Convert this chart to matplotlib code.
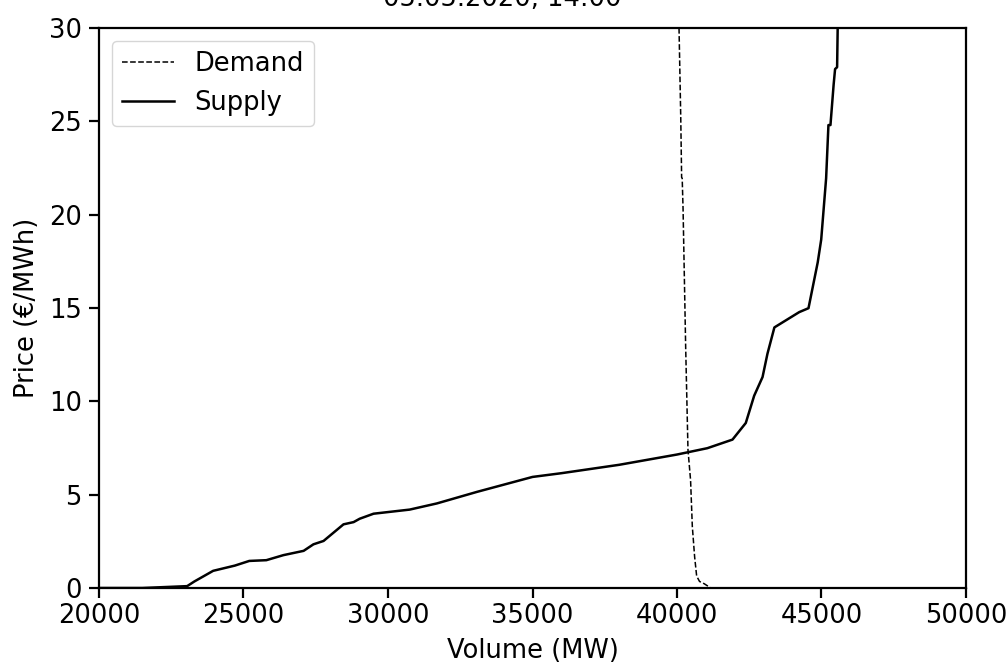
import matplotlib
matplotlib.use("Agg")
import matplotlib.pyplot as plt

# Bid curves
supply_volume = [20000, 21500, 23050, 23300, 23950, 24700, 25200, 25790, 26380, 27080,
                 27420, 27770, 28460, 28810, 29020, 29500, 30750, 31690, 33080, 35000,
                 36000, 38000, 40000, 41050, 41920, 42380, 42670, 42960, 43130, 43370,
                 44230, 44550, 44870, 44990, 45160, 45240, 45310, 45420, 45470, 45540, 45560]
supply_price = [0.0, 0.0, 0.1, 0.35, 0.92, 1.2, 1.45, 1.49, 1.76, 1.99,
                2.34, 2.52, 3.41, 3.53, 3.71, 3.98, 4.2, 4.53, 5.15, 5.95,
                6.15, 6.6, 7.15, 7.49, 7.95, 8.84, 10.3, 11.3, 12.55, 13.96,
                14.78, 14.99, 17.45, 18.67, 21.95, 24.8, 24.8, 26.97, 27.8, 27.9, 30.0]

demand_volume = [40070, 40130, 40160, 40180, 40210, 40300, 40380, 40470, 40530,
                 40610, 40680, 40780, 40940, 41170]
demand_price = [30.0, 25.2, 22.0, 21.95, 20.3, 12.9, 7.4, 5.77, 3.3,
                1.67, 0.64, 0.35, 0.23, 0.0]

title = "05.05.2020, 14:00"

plt.rcParams['font.size'] = 18.5

fig = plt.figure(figsize=(10.08, 6.64), dpi=100)
ax = fig.add_axes([99 / 1008, 76 / 664, 867 / 1008, 560 / 664])

ax.plot(demand_volume, demand_price, 'k--', linewidth=1.1, label='Demand')
ax.plot(supply_volume, supply_price, 'k-', linewidth=1.8, label='Supply')

ax.set_xlim(20000, 50000)
ax.set_ylim(0, 30)
ax.set_xticks([20000, 25000, 30000, 35000, 40000, 45000, 50000])
ax.set_yticks([0, 5, 10, 15, 20, 25, 30])
ax.set_xlabel('Volume (MW)', labelpad=6.5)
ax.set_ylabel('Price (€/MWh)', labelpad=6)
ax.tick_params(width=1.6, length=7)
ax.tick_params(axis='y', pad=5.5)
for spine in ax.spines.values():
    spine.set_linewidth(1.6)

ax.legend(loc='upper left')

# the title sits mostly above the top edge, as in the reference
fig.text(0.498, 1 - 6 / 664, title, ha='center', va='baseline', fontsize=18.5)

fig.savefig('out.png', dpi=100)
